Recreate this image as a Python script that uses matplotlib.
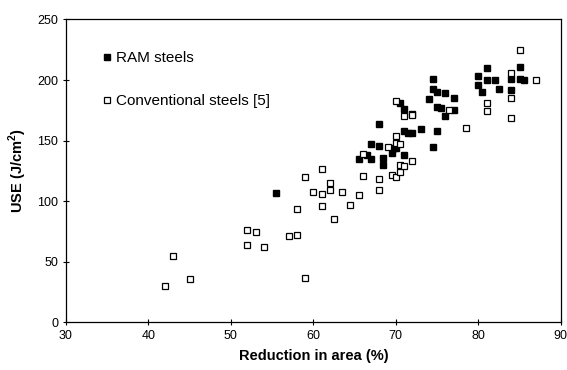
import matplotlib
matplotlib.use('Agg')
import matplotlib.pyplot as plt

plt.rcParams['font.family'] = ['Liberation Sans', 'DejaVu Sans']

# RAM steels (filled squares)
ram_ra = [55.5, 65.5, 66.5, 67.0, 67.0, 68.0, 68.0, 68.5, 68.5, 69.5, 69.8, 70.0,
          70.5, 71.0, 71.0, 71.0, 71.5, 72.0, 72.0, 73.0, 74.0, 74.5, 74.5, 74.5,
          75.0, 75.0, 75.0, 75.5, 76.0, 76.0, 77.0, 77.0, 80.0, 80.0, 80.5, 81.0,
          81.0, 82.0, 82.5, 84.0, 84.0, 85.0, 85.0, 85.5]
ram_use = [107, 135, 138, 147, 135, 164, 146, 136, 130, 140, 144, 144,
           181, 176, 158, 138, 156, 156, 172, 160, 184, 201, 193, 145,
           190, 178, 158, 177, 189, 170, 185, 175, 203, 196, 190, 210,
           200, 200, 193, 201, 192, 211, 201, 200]

# Conventional steels [5] (open squares)
conv_ra = [42.0, 43.0, 45.0, 52.0, 52.0, 53.0, 54.0, 57.0, 58.0, 58.0, 59.0, 59.0,
           60.0, 61.0, 61.0, 61.0, 62.0, 62.0, 62.5, 63.5, 64.5, 65.5, 66.0, 66.0,
           68.0, 68.0, 69.0, 69.5, 70.0, 70.0, 70.0, 70.0, 70.5, 70.5, 70.5, 71.0,
           71.0, 72.0, 72.0, 76.5, 78.5, 81.0, 81.0, 84.0, 84.0, 84.0, 85.0, 87.0]
conv_use = [30.5, 55, 36, 76, 64, 75, 62, 71, 94, 72, 120, 37,
            108, 127, 106, 96, 115, 109, 85, 108, 97, 105, 139, 121,
            118, 109, 145, 122, 183, 154, 148, 120, 147, 130, 124, 170,
            129, 171, 133, 175, 160.5, 181, 174.5, 205.5, 185, 169, 225, 200]

fig = plt.figure(figsize=(5.67, 3.70), dpi=100)
ax = fig.add_axes([0.1164, 0.1284, 0.8726, 0.8189])

ax.plot(ram_ra, ram_use, 's', color='black', markersize=3.8, linestyle='none',
        label='RAM steels')
ax.plot(conv_ra, conv_use, 's', markerfacecolor='white', markeredgecolor='black',
        markeredgewidth=0.9, markersize=3.9, linestyle='none',
        label='Conventional steels [5]')

ax.set_xlim(30, 90)
ax.set_ylim(0, 250)
ax.set_xticks([30, 40, 50, 60, 70, 80, 90])
ax.set_yticks([0, 50, 100, 150, 200, 250])
ax.tick_params(direction='inout', length=5, width=0.8, labelsize=9, pad=3)
for s in ax.spines.values():
    s.set_linewidth(0.9)

ax.set_xlabel('Reduction in area (%)', fontsize=10.5, fontweight='bold', labelpad=5)
ax.set_ylabel('USE (J/cm$^\\mathregular{2}$)', fontsize=10.5, fontweight='bold', labelpad=6)

ax.legend(loc='upper left', bbox_to_anchor=(0.04, 0.94), frameon=False,
          fontsize=11, labelspacing=1.9, handletextpad=0.1, handlelength=1.0,
          markerscale=1.0)

fig.savefig('out.png', dpi=100)
